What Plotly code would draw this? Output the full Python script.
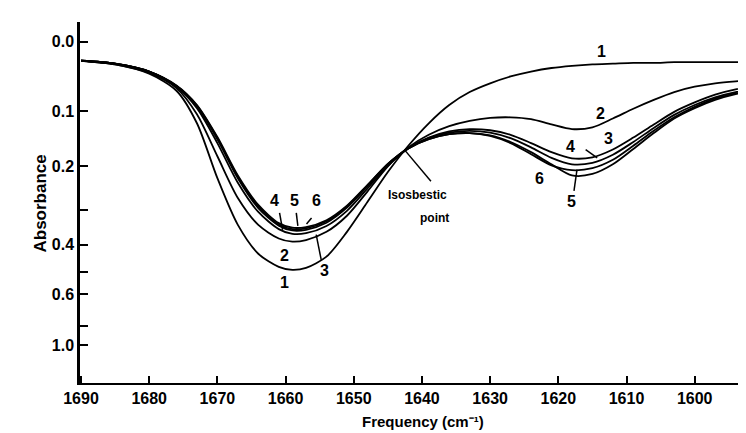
import numpy as np
import plotly.graph_objects as go

# Frequency grid (cm^-1)
freq = [1690, 1685, 1680, 1676, 1673, 1670, 1667, 1664, 1661, 1659, 1657, 1654, 1651,
        1648, 1645, 1642, 1639, 1636, 1633, 1630, 1627, 1624, 1621, 1618, 1615, 1612,
        1609, 1606, 1603, 1600, 1597, 1594, 1591]

# Absorbance of the six spectra
curve1 = [0.025, 0.030, 0.043, 0.068, 0.120, 0.225, 0.340, 0.430, 0.478, 0.490, 0.482, 0.440, 0.360,
          0.280, 0.212, 0.160, 0.120, 0.090, 0.070, 0.057, 0.047, 0.040, 0.035, 0.032, 0.030, 0.029,
          0.028, 0.028, 0.027, 0.027, 0.027, 0.027, 0.027]
curve2 = [0.025, 0.030, 0.042, 0.064, 0.105, 0.180, 0.270, 0.340, 0.380, 0.390, 0.385, 0.360, 0.315,
          0.255, 0.200, 0.163, 0.140, 0.125, 0.116, 0.111, 0.110, 0.113, 0.122, 0.130, 0.127, 0.112,
          0.096, 0.082, 0.070, 0.062, 0.057, 0.054, 0.052]
curve3 = [0.025, 0.029, 0.040, 0.062, 0.095, 0.155, 0.235, 0.305, 0.352, 0.366, 0.364, 0.343, 0.302,
          0.248, 0.199, 0.165, 0.145, 0.134, 0.130, 0.132, 0.140, 0.155, 0.172, 0.184, 0.182, 0.167,
          0.145, 0.122, 0.101, 0.086, 0.074, 0.066, 0.061]
curve4 = [0.025, 0.029, 0.040, 0.061, 0.092, 0.148, 0.225, 0.295, 0.342, 0.356, 0.354, 0.334, 0.294,
          0.243, 0.196, 0.164, 0.146, 0.136, 0.133, 0.136, 0.146, 0.163, 0.183, 0.196, 0.193, 0.177,
          0.153, 0.128, 0.106, 0.090, 0.078, 0.070, 0.065]
curve5 = [0.025, 0.029, 0.040, 0.061, 0.091, 0.146, 0.222, 0.291, 0.339, 0.352, 0.350, 0.330, 0.291,
          0.241, 0.195, 0.165, 0.148, 0.139, 0.137, 0.141, 0.153, 0.172, 0.196, 0.219, 0.216, 0.196,
          0.166, 0.137, 0.112, 0.095, 0.082, 0.073, 0.068]
curve6 = [0.025, 0.029, 0.040, 0.060, 0.090, 0.144, 0.219, 0.287, 0.335, 0.348, 0.346, 0.327, 0.289,
          0.240, 0.195, 0.165, 0.148, 0.139, 0.137, 0.142, 0.155, 0.176, 0.198, 0.208, 0.204, 0.187,
          0.160, 0.133, 0.110, 0.093, 0.080, 0.072, 0.066]

x_ticks = [1690, 1680, 1670, 1660, 1650, 1640, 1630, 1620, 1610, 1600]
y_major = [0.0, 0.1, 0.2, 0.4, 0.6, 1.0]
y_major_text = ["0.0", "0.1", "0.2", "0.4", "0.6", "1.0"]
y_minor = [0.3, 0.5, 0.8]


def T(a):
    # absorbance plotted on a linear transmittance scale
    return 10 ** (-np.asarray(a, dtype=float))


FONT = "Liberation Sans Narrow, Liberation Sans, Arial, sans-serif"

fig = go.Figure()
for vals in [curve1, curve2, curve3, curve4, curve5, curve6]:
    fig.add_trace(go.Scatter(
        x=freq, y=T(vals), mode="lines",
        line=dict(color="black", width=1.8, shape="spline", smoothing=0.8),
        showlegend=False, hoverinfo="skip"))

# curve labels (freq, absorbance, text)
labels = [
    (1661.6, 0.277, "4"), (1658.7, 0.277, "5"), (1655.5, 0.277, "6"),
    (1660.1, 0.437, "2"), (1660.1, 0.545, "1"), (1654.3, 0.494, "3"),
    (1613.7, 0.012, "1"), (1613.8, 0.103, "2"), (1612.6, 0.146, "3"),
    (1618.2, 0.161, "4"), (1622.8, 0.225, "6"), (1618.0, 0.278, "5"),
]
annotations = []
for fx, a, t in labels:
    annotations.append(dict(x=fx, y=float(T(a)), xref="x", yref="y", text=t, showarrow=False,
                            font=dict(family=FONT, size=16, color="black", weight="bold")))
annotations.append(dict(x=1640.6, y=float(T(0.262)), xref="x", yref="y", text="Isosbestic",
                        showarrow=False, font=dict(family=FONT, size=12, color="black", weight="bold")))
annotations.append(dict(x=1638.1, y=float(T(0.322)), xref="x", yref="y", text="point",
                        showarrow=False, font=dict(family=FONT, size=12, color="black", weight="bold")))
annotations.append(dict(x=(415 - 72) / 674, y=0, xref="paper", yref="paper", yshift=-38,
                        yanchor="middle",
                        text="Frequency (cm\u207b\u00b9)", showarrow=False,
                        font=dict(family=FONT, size=15, color="black", weight="bold")))
annotations.append(dict(x=(20 - 72) / 674, y=(375 - 196) / 361, xref="paper", yref="paper",
                        text="Absorbance", textangle=-90, showarrow=False,
                        font=dict(family=FONT, size=17, color="black", weight="bold")))

# leader lines (freq, absorbance) pairs
leaders = [
    (1660.88, 0.3075, 1660.44, 0.3545),
    (1658.43, 0.3075, 1658.20, 0.3429),
    (1656.19, 0.3209, 1656.93, 0.3374),
    (1654.77, 0.4521, 1655.51, 0.3683),
    (1615.99, 0.1672, 1614.30, 0.1832),
    (1617.70, 0.2534, 1617.26, 0.2068),
    (1638.68, 0.2316, 1642.58, 0.1672),
]
shapes = []
for x0, a0, x1, a1 in leaders:
    shapes.append(dict(type="line", xref="x", yref="y", x0=x0, y0=float(T(a0)), x1=x1, y1=float(T(a1)),
                       line=dict(color="black", width=1.5)))

fig.update_layout(
    width=746, height=433,
    margin=dict(l=72, r=0, t=14, b=58),
    paper_bgcolor="white", plot_bgcolor="white",
    annotations=annotations, shapes=shapes,
    xaxis=dict(range=[1690.15, 1591.3], tickvals=x_ticks, ticktext=[str(v) for v in x_ticks],
               ticks="inside", ticklen=7, tickwidth=2, tickcolor="black", automargin=False,
               showline=True, linecolor="black", linewidth=2, showgrid=False, zeroline=False,
               tickfont=dict(family=FONT, size=16, color="black", weight="bold")),
    yaxis=dict(range=[-0.0119, 1.059],
               tickvals=list(T(y_major)), ticktext=y_major_text, automargin=False,
               ticks="inside", ticklen=8, tickwidth=2, tickcolor="black",
               minor=dict(tickmode="array", tickvals=list(T(y_minor)), ticks="inside",
                          ticklen=8, tickwidth=2, tickcolor="black", showgrid=False),
               showline=True, linecolor="black", linewidth=2.5, showgrid=False, zeroline=False,
               tickfont=dict(family=FONT, size=16, color="black", weight="bold")),
)

fig.write_html("out.html")
